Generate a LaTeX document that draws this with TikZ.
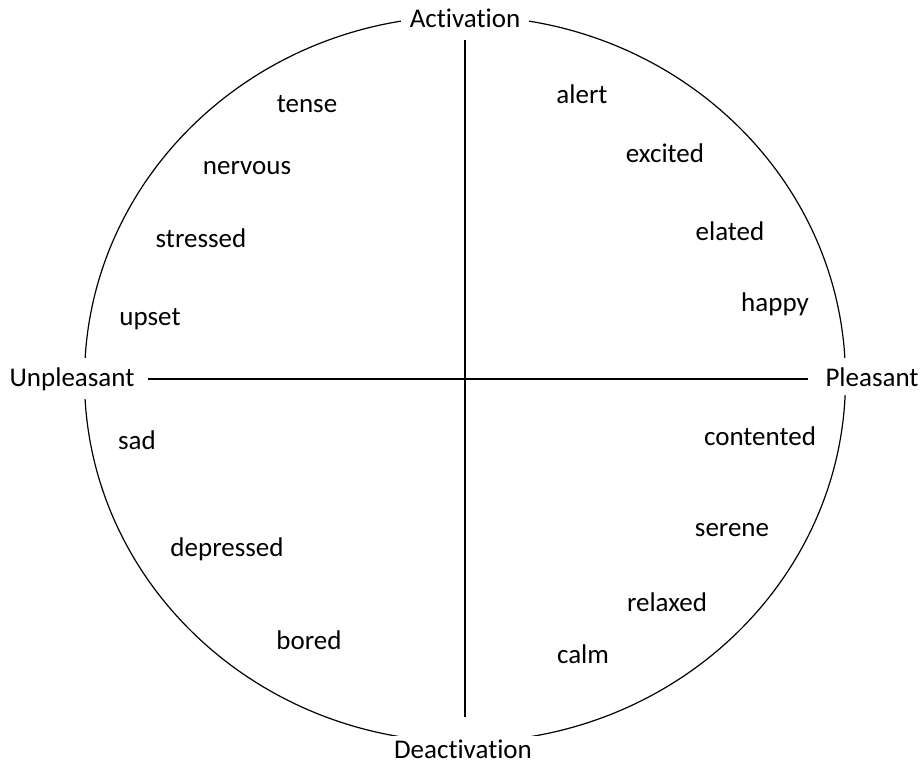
\documentclass[tikz,border=0pt]{standalone}
\usepackage{fontspec}
\setmainfont{Carlito}[Ligatures=CommonOff]
\usepackage{tikz}
\usetikzlibrary{positioning}

\begin{document}
\begin{tikzpicture}[x=1pt,y=-1pt,line width=1.2pt,
  emotion/.style={anchor=base,inner sep=0pt,font=\fontsize{27}{32}\selectfont},
  pole/.style={emotion,fill=white,inner sep=9pt}]
  \useasboundingbox (0,0) rectangle (924,763);
  % outer ring of the circumplex
  \draw (465,379) ellipse [x radius=380.5,y radius=363];
  % axis ends
  \coordinate (west) at (148,379);
  \coordinate (east) at (808,379);
  \coordinate (north) at (465,40);
  \coordinate (south) at (465,717);
  \draw (west) -- (east);
  \draw (north) -- (south);
  % poles
  \node[pole] (activation) at (465,27) {Activation};
  \node[pole,inner xsep=10pt,inner ysep=3pt] (deactivation) at (463,758) {Deactivation};
  \node[pole] (unpleasant) at (72,386) {Unpleasant};
  \node[pole] (pleasant) at (872,386) {Pleasant};
  % activated, unpleasant
  \node[emotion] (tense) at (307,112) {tense};
  \node[emotion] (nervous) at (247,174) {nervous};
  \node[emotion] (stressed) at (201,247) {stressed};
  \node[emotion] (upset) at (150,325) {upset};
  % activated, pleasant
  \node[emotion] (alert) at (582,103) {alert};
  \node[emotion] (excited) at (665,162) {excited};
  \node[emotion] (elated) at (730,240) {elated};
  \node[emotion] (happy) at (775,311) {happy};
  % deactivated, unpleasant
  \node[emotion] (sad) at (137,449) {sad};
  \node[emotion] (depressed) at (227,556) {depressed};
  \node[emotion] (bored) at (309,649) {bored};
  % deactivated, pleasant
  \node[emotion] (contented) at (760,445) {contented};
  \node[emotion] (serene) at (732,536) {serene};
  \node[emotion] (relaxed) at (667,611) {relaxed};
  \node[emotion] (calm) at (583,663) {calm};
\end{tikzpicture}
\end{document}
